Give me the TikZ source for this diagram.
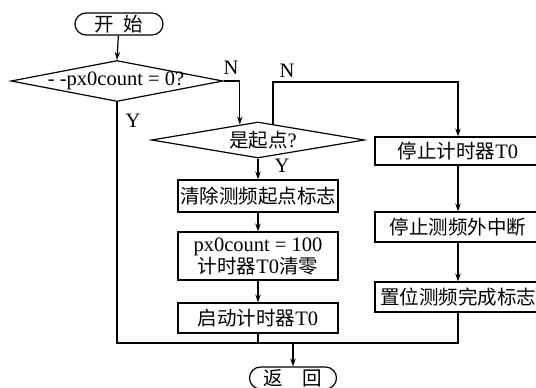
\documentclass[tikz,border=0pt]{standalone}
\usepackage{fontspec}
\setmainfont{Liberation Serif}
\newfontfamily\cjk{Noto Sans CJK SC}
\usetikzlibrary{shapes.geometric,arrows.meta,calc}
\newcommand{\zh}[1]{{\cjk\fontsize{19.5}{22}\selectfont #1}}
\tikzset{
  box/.style={draw, line width=1.2pt, inner sep=0pt, align=center, font=\fontsize{20.5}{20}\selectfont},
  term/.style={draw, line width=1.2pt, rounded corners=11pt, inner sep=0pt, font=\fontsize{20.5}{20}\selectfont},
  dia/.style={draw, diamond, line width=1.2pt, inner sep=0pt},
  lbl/.style={font=\fontsize{20.5}{20}\selectfont, inner sep=0pt},
  line/.style={line width=1.2pt},
  arr/.style={line width=1.2pt, -{Stealth[length=8pt,width=5.5pt]}}
}
\begin{document}
\begin{tikzpicture}[x=1pt,y=-1pt]
\useasboundingbox (0,0) rectangle (536,388);
% terminals
\node[term, minimum width=88pt, minimum height=22pt] (start) at (119,24) {\zh{开\enspace 始}};
\node[term, minimum width=87pt, minimum height=22pt] (end) at (293,378) {\zh{返\quad 回}};
% diamonds
\node[dia, minimum width=212pt, minimum height=41pt] (d1) at (117,81) {};
\node[lbl] (d1t) at (116,81) {- -px0count = 0?};
\node[dia, minimum width=213pt, minimum height=36pt] (d2) at (258,140) {};
\node[lbl] (d2t) at (263,140) {\zh{是起点}?};
% left boxes
\node[box, minimum width=160pt, minimum height=32pt] (b1) at (258,196) {\zh{清除测频起点标志}};
\node[box, minimum width=160pt, minimum height=48pt] (b2) at (258,256) {\rule{0pt}{14pt}px0count = 100\\[0pt]\zh{计时器}T0\zh{清零}};
\node[box, minimum width=160pt, minimum height=30pt] (b3) at (258,318) {\zh{启动计时器}T0};
% right boxes
\node[box, minimum width=166pt, minimum height=28pt] (r1) at (458,151) {\zh{停止计时器}T0};
\node[box, minimum width=166pt, minimum height=30pt] (r2) at (458,227) {\zh{停止测频外中断}};
\node[box, minimum width=166pt, minimum height=30pt] (r3) at (458,297) {\zh{置位测频完成标志}};
% labels
\node[lbl] (n1) at (231,68) {N};
\node[lbl] (y1) at (133,121) {Y};
\node[lbl] (n2) at (287,71) {N};
\node[lbl] (y2) at (282,166) {Y};
% coordinates
\coordinate (d2in) at ($(d2.north)!0.17!(d2.west)$);
\coordinate (d2out) at ($(d2.north)!0.14!(d2.east)$);
\coordinate (top) at (0,82);
\coordinate (join) at (293,343);
% connectors
\draw[arr] (start) -- (d1.north);
\draw[arr] (d1.east) -| (d2in);
\draw[arr] (d2out) |- (r1.north |- top) -- (r1.north);
\draw[arr] (d2.south) -- (b1.north);
\draw[arr] (b1) -- (b2);
\draw[arr] (b2) -- (b3);
\draw[arr] (r1) -- (r2);
\draw[arr] (r2) -- (r3);
\draw[line] (d1.south) |- (join);
\draw[line] (b3.south) -- (b3.south |- join);
\draw[line] (r3.south) |- (join);
\draw[arr] (join) -- (end.north);
\end{tikzpicture}
\end{document}
